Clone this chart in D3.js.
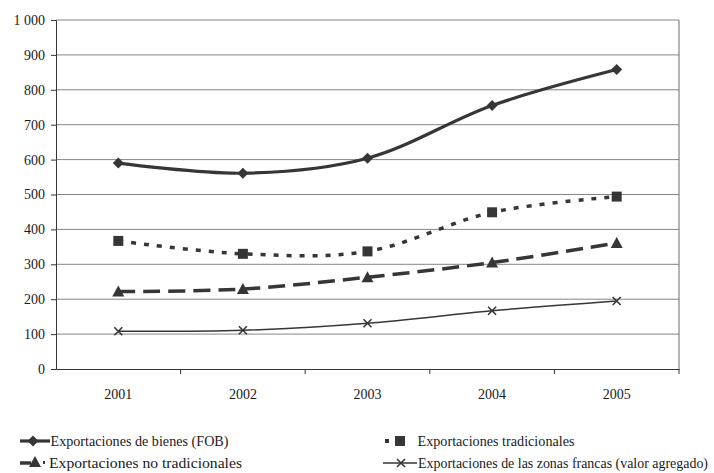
<!DOCTYPE html>
<html>
<head>
<meta charset="utf-8">
<script src="https://cdn.jsdelivr.net/npm/d3@7"></script>
<style>
  body { margin: 0; background: #fff; }
</style>
</head>
<body>
<div id="chart"></div>
<script>
// data
const years = ["2001", "2002", "2003", "2004", "2005"];
const fob = [590, 561, 604, 755, 858];
const tradicionales = [367, 330, 337, 449, 494];
const noTradicionales = [222, 229, 263, 305, 361];
const zonasFrancas = [108, 111, 131, 167, 195];
const yTicks = [0, 100, 200, 300, 400, 500, 600, 700, 800, 900, 1000];

const W = 714, H = 473;
const margin = { top: 20, right: 35, bottom: 104, left: 56 };
const width = W - margin.left - margin.right,
  height = H - margin.top - margin.bottom;

const ink = "#363636";
const serif = "'Liberation Serif', 'Times New Roman', serif";

const svg = d3.select("#chart")
  .append("svg")
  .attr("width", W)
  .attr("height", H)
  .style("font-family", serif);

const g = svg.append("g")
  .attr("transform", "translate(" + margin.left + "," + margin.top + ")");

const x = d3.scaleBand().domain(years).range([0, width]);
const y = d3.scaleLinear().domain([0, 1000]).range([height, 0]);
const cx = (d) => x(d) + x.bandwidth() / 2;

// gridlines
g.selectAll(".grid")
  .data(yTicks.filter((t) => t > 0))
  .join("line")
  .attr("x1", 0)
  .attr("x2", width)
  .attr("y1", (d) => y(d))
  .attr("y2", (d) => y(d))
  .attr("stroke", "#858585")
  .attr("stroke-width", 1);

// right border of plot
g.append("line")
  .attr("x1", width).attr("x2", width)
  .attr("y1", 0).attr("y2", height)
  .attr("stroke", "#6a6a6a");

// y axis
const yAxis = g.append("g")
  .call(d3.axisLeft(y).tickValues(yTicks).tickSize(5).tickPadding(6)
    .tickFormat((d) => d3.format(",")(d).replace(",", " ")));
yAxis.attr("font-family", null);
yAxis.select(".domain").attr("stroke", ink);
yAxis.selectAll(".tick line").attr("stroke", ink);
yAxis.selectAll("text").attr("font-size", 14).attr("fill", "#1a1a1a")
  .style("font-family", serif);

// x axis, tick marks on category boundaries
const xAxis = g.append("g")
  .attr("transform", "translate(0," + height + ")")
  .call(d3.axisBottom(x).tickSize(0).tickPadding(20));
xAxis.attr("font-family", null);
xAxis.select(".domain").attr("stroke", ink);
xAxis.selectAll("text").attr("font-size", 14).attr("fill", "#1a1a1a")
  .style("font-family", serif);
g.selectAll(".xtick")
  .data(years.slice(1).concat(["end"]))
  .join("line")
  .attr("x1", (d) => (d === "end" ? width : x(d)))
  .attr("x2", (d) => (d === "end" ? width : x(d)))
  .attr("y1", height)
  .attr("y2", height + 5)
  .attr("stroke", ink);

const line = d3.line()
  .x((d, i) => cx(years[i]))
  .y((d) => y(d))
  .curve(d3.curveCatmullRom.alpha(0.5));

const series = [
  { name: "Exportaciones de bienes (FOB)", values: fob, width: 3.2, dash: null, marker: "diamond" },
  { name: "Exportaciones tradicionales", values: tradicionales, width: 3.5, dash: "5,8", marker: "square" },
  { name: "Exportaciones no tradicionales", values: noTradicionales, width: 3.5, dash: "17,8", marker: "triangle" },
  { name: "Exportaciones de las zonas francas (valor agregado)", values: zonasFrancas, width: 1.5, dash: null, marker: "cross" }
];

function drawMarker(sel, type) {
  if (type === "diamond") {
    sel.append("path").attr("d", "M0,-5.5L5.5,0L0,5.5L-5.5,0Z").attr("fill", ink);
  } else if (type === "square") {
    sel.append("rect").attr("x", -5).attr("y", -5).attr("width", 10).attr("height", 10).attr("fill", ink);
  } else if (type === "triangle") {
    sel.append("path").attr("d", "M0,-6L6,5L-6,5Z").attr("fill", ink);
  } else if (type === "cross") {
    sel.append("path").attr("d", "M-4,-4L4,4M-4,4L4,-4").attr("stroke", ink).attr("stroke-width", 1.6);
  }
}

series.forEach((s) => {
  g.append("path")
    .datum(s.values)
    .attr("fill", "none")
    .attr("stroke", ink)
    .attr("stroke-width", s.width)
    .attr("stroke-dasharray", s.dash)
    .attr("d", line);

  g.selectAll(null)
    .data(s.values)
    .join("g")
    .attr("transform", (d, i) => "translate(" + cx(years[i]) + "," + y(d) + ")")
    .each(function () { drawMarker(d3.select(this), s.marker); });
});

// legend
const row1 = 441, row2 = 463;
const lg = svg.append("g");

// FOB: short solid line with diamond
lg.append("line").attr("x1", 20).attr("x2", 50).attr("y1", row1).attr("y2", row1)
  .attr("stroke", ink).attr("stroke-width", 3.2);
lg.append("g").attr("transform", "translate(33," + row1 + ")").call((m) => drawMarker(m, "diamond"));

// tradicionales: one dot and a square
lg.append("rect").attr("x", 385).attr("y", row1 - 2).attr("width", 4).attr("height", 4).attr("fill", ink);
lg.append("g").attr("transform", "translate(400," + row1 + ")").call((m) => drawMarker(m, "square"));

// no tradicionales: dash, triangle, dot
lg.append("line").attr("x1", 20).attr("x2", 31).attr("y1", row2).attr("y2", row2)
  .attr("stroke", ink).attr("stroke-width", 3.5);
lg.append("g").attr("transform", "translate(35," + (row2 - 1) + ")").call((m) => drawMarker(m, "triangle"));
lg.append("rect").attr("x", 43).attr("y", row2 - 2).attr("width", 2).attr("height", 3).attr("fill", ink);

// zonas francas: thin line with cross
lg.append("line").attr("x1", 383).attr("x2", 417).attr("y1", row2).attr("y2", row2)
  .attr("stroke", ink).attr("stroke-width", 1.5);
lg.append("g").attr("transform", "translate(401," + row2 + ")").call((m) => drawMarker(m, "cross"));

// text positions and widths as measured on the picture
const legendText = [
  { x: 50.5, y: row1, w: 178 },
  { x: 417.5, y: row1, w: 157 },
  { x: 49, y: row2, w: 193 },
  { x: 418, y: row2, w: 290 }
];

series.forEach((s, i) => {
  lg.append("text")
    .attr("x", legendText[i].x)
    .attr("y", legendText[i].y)
    .attr("dy", "0.33em")
    .attr("font-size", 14)
    .attr("textLength", legendText[i].w)
    .attr("lengthAdjust", "spacingAndGlyphs")
    .attr("fill", "#1a1a1a")
    .style("font-family", serif)
    .text(s.name);
});
</script>
</body>
</html>
